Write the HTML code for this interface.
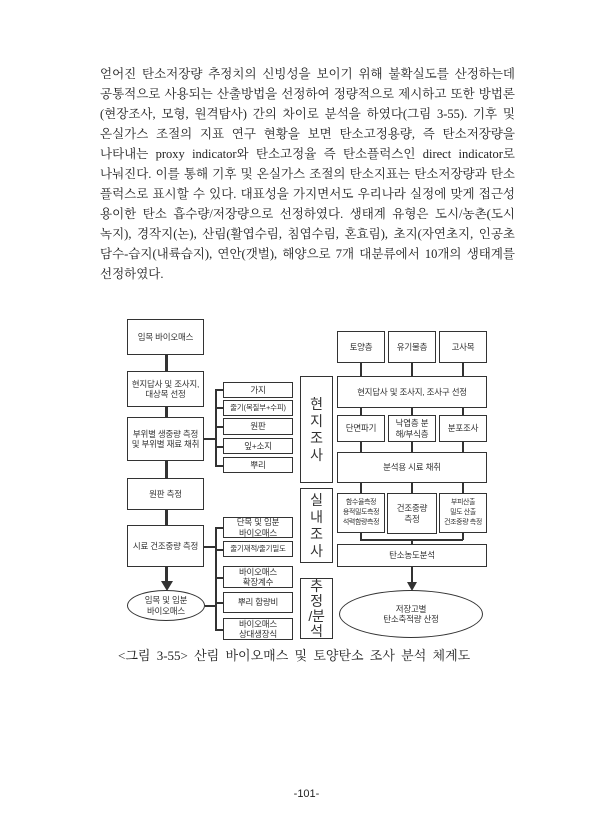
<!DOCTYPE html>
<html><head><meta charset="utf-8">
<style>
*{margin:0;padding:0;box-sizing:border-box}
body{width:613px;height:840px;background:#fff;position:relative;overflow:hidden;font-family:"Liberation Serif","Noto Serif CJK SC",serif;color:#222}
.ln{position:absolute;left:100px;width:415px;font-size:12.5px;line-height:20px;height:20px;text-align:justify;text-align-last:justify;overflow:hidden}
.b{position:absolute;border:1.5px solid #333;background:#fff;display:flex;align-items:center;justify-content:center;text-align:center;font-family:"Liberation Sans","Noto Sans CJK KR",sans-serif;font-size:8.5px;line-height:10.5px;color:#333;white-space:nowrap;letter-spacing:-0.2px}
.h{position:absolute;background:#333}
.lab{font-size:14px;line-height:17px}
</style></head><body>
<div class="ln" style="top:64px">얻어진 탄소저장량 추정치의 신빙성을 보이기 위해 불확실도를 산정하는데</div>
<div class="ln" style="top:84px">공통적으로 사용되는 산출방법을 선정하여 정량적으로 제시하고 또한 방법론</div>
<div class="ln" style="top:104px">(현장조사, 모형, 원격탐사) 간의 차이로 분석을 하였다(그림 3-55). 기후 및</div>
<div class="ln" style="top:124px">온실가스 조절의 지표 연구 현황을 보면 탄소고정용량, 즉 탄소저장량을</div>
<div class="ln" style="top:144px">나타내는 proxy indicator와 탄소고정율 즉 탄소플럭스인 direct indicator로</div>
<div class="ln" style="top:164px">나눠진다. 이를 통해 기후 및 온실가스 조절의 탄소지표는 탄소저장량과 탄소</div>
<div class="ln" style="top:184px">플럭스로 표시할 수 있다. 대표성을 가지면서도 우리나라 실정에 맞게 접근성이</div>
<div class="ln" style="top:204px">용이한 탄소 흡수량/저장량으로 선정하였다. 생태계 유형은 도시/농촌(도시</div>
<div class="ln" style="top:224px">녹지), 경작지(논), 산림(활엽수림, 침엽수림, 혼효림), 초지(자연초지, 인공초지),</div>
<div class="ln" style="top:244px">담수-습지(내륙습지), 연안(갯벌), 해양으로 7개 대분류에서 10개의 생태계를</div>
<div class="ln" style="top:264px;text-align-last:left">선정하였다.</div>

<div class="h" style="left:165px;top:355px;width:3px;height:228px"></div>
<svg style="position:absolute;left:160px;top:580px" width="14" height="12"><polygon points="1,1 13,1 7,11" fill="#333"/></svg>
<div class="b" style="left:127px;top:319px;width:77px;height:36px">임목 바이오매스</div>
<div class="b" style="left:127px;top:371px;width:77px;height:36px">현지답사 및 조사지,<br>대상목 선정</div>
<div class="b" style="left:127px;top:417px;width:77px;height:44px">부위별 생중량 측정<br>및 부위별 재료 채취</div>
<div class="b" style="left:127px;top:478px;width:77px;height:32px">원판 측정</div>
<div class="b" style="left:127px;top:525px;width:77px;height:42px">시료 건조중량 측정</div>
<div class="b" style="left:127px;top:590px;width:78px;height:31px;border-radius:50%">임목 및 임분<br>바이오매스</div>
<div class="h" style="left:204px;top:438px;width:12px;height:1.5px"></div>
<div class="h" style="left:215px;top:389px;width:1.5px;height:77px"></div>
<div class="h" style="left:204px;top:546px;width:12px;height:1.5px"></div>
<div class="h" style="left:205px;top:605px;width:11px;height:1.5px"></div>
<div class="h" style="left:215px;top:527px;width:1.5px;height:103px"></div>
<div class="h" style="left:215px;top:389px;width:8px;height:1.5px"></div>
<div class="h" style="left:215px;top:407px;width:8px;height:1.5px"></div>
<div class="h" style="left:215px;top:426px;width:8px;height:1.5px"></div>
<div class="h" style="left:215px;top:446px;width:8px;height:1.5px"></div>
<div class="h" style="left:215px;top:465px;width:8px;height:1.5px"></div>
<div class="h" style="left:215px;top:527px;width:8px;height:1.5px"></div>
<div class="h" style="left:215px;top:549px;width:8px;height:1.5px"></div>
<div class="h" style="left:215px;top:577px;width:8px;height:1.5px"></div>
<div class="h" style="left:215px;top:602px;width:8px;height:1.5px"></div>
<div class="h" style="left:215px;top:629px;width:8px;height:1.5px"></div>
<div class="b" style="left:223px;top:382px;width:70px;height:16px">가지</div>
<div class="b" style="left:223px;top:400px;width:70px;height:16px;font-size:7.5px">줄기(목질부+수피)</div>
<div class="b" style="left:223px;top:418px;width:70px;height:17px">원판</div>
<div class="b" style="left:223px;top:438px;width:70px;height:16px">잎+소지</div>
<div class="b" style="left:223px;top:457px;width:70px;height:16px">뿌리</div>
<div class="b" style="left:223px;top:517px;width:70px;height:21px">단목 및 임분<br>바이오매스</div>
<div class="b" style="left:223px;top:541px;width:70px;height:16px;font-size:7.5px">줄기재적/줄기밀도</div>
<div class="b" style="left:223px;top:566px;width:70px;height:22px">바이오매스<br>확장계수</div>
<div class="b" style="left:223px;top:592px;width:70px;height:21px">뿌리 함량비</div>
<div class="b" style="left:223px;top:618px;width:70px;height:22px">바이오매스<br>상대생장식</div>
<div class="b lab" style="left:300px;top:376px;width:33px;height:107px">현<br>지<br>조<br>사</div>
<div class="b lab" style="left:300px;top:488px;width:33px;height:75px">실<br>내<br>조<br>사</div>
<div class="b lab" style="left:300px;top:578px;width:33px;height:61px;line-height:15px">추<br>정<br>/분<br>석</div>
<div class="h" style="left:360px;top:363px;width:1.5px;height:130px"></div>
<div class="h" style="left:411px;top:363px;width:1.5px;height:130px"></div>
<div class="h" style="left:462px;top:363px;width:1.5px;height:130px"></div>
<div class="h" style="left:360px;top:533px;width:1.5px;height:7px"></div>
<div class="h" style="left:462px;top:533px;width:1.5px;height:7px"></div>
<div class="h" style="left:360px;top:539px;width:103px;height:1.5px"></div>
<div class="h" style="left:411px;top:539px;width:1.5px;height:6px"></div>
<div class="h" style="left:411px;top:567px;width:1.5px;height:18px"></div>
<svg style="position:absolute;left:407px;top:582px" width="10" height="9"><polygon points="0,0 10,0 5,9" fill="#333"/></svg>
<div class="b" style="left:337px;top:331px;width:48px;height:32px">토양층</div>
<div class="b" style="left:388px;top:331px;width:48px;height:32px">유기물층</div>
<div class="b" style="left:439px;top:331px;width:48px;height:32px">고사목</div>
<div class="b" style="left:337px;top:376px;width:150px;height:32px">현지답사 및 조사지, 조사구 선정</div>
<div class="b" style="left:337px;top:415px;width:48px;height:27px">단면파기</div>
<div class="b" style="left:388px;top:415px;width:48px;height:27px">낙엽층 분<br>해/부식층</div>
<div class="b" style="left:439px;top:415px;width:48px;height:27px">분포조사</div>
<div class="b" style="left:337px;top:452px;width:150px;height:31px">분석용 시료 채취</div>
<div class="b" style="left:337px;top:493px;width:48px;height:40px;font-size:7px;line-height:10px;letter-spacing:-0.4px">함수율측정<br>용적밀도측정<br>석력함량측정</div>
<div class="b" style="left:387px;top:493px;width:50px;height:41px">건조중량<br>측정</div>
<div class="b" style="left:439px;top:493px;width:48px;height:40px;font-size:7px;line-height:10px;letter-spacing:-0.4px">부피산출<br>밀도 산출<br>건조중량 측정</div>
<div class="b" style="left:337px;top:544px;width:150px;height:23px">탄소농도분석</div>
<div class="b" style="left:339px;top:590px;width:144px;height:48px;border-radius:50%">저장고별<br>탄소축적량 산정</div>

<div style="position:absolute;left:118px;top:647px;width:380px;font-size:13px;line-height:18px;white-space:nowrap;word-spacing:3px">&lt;그림 3-55&gt; 산림 바이오매스 및 토양탄소 조사 분석 체계도</div>
<div style="position:absolute;left:0;width:613px;top:788px;text-align:center;font-size:11px;font-family:'Liberation Sans',sans-serif">-101-</div>
</body></html>
